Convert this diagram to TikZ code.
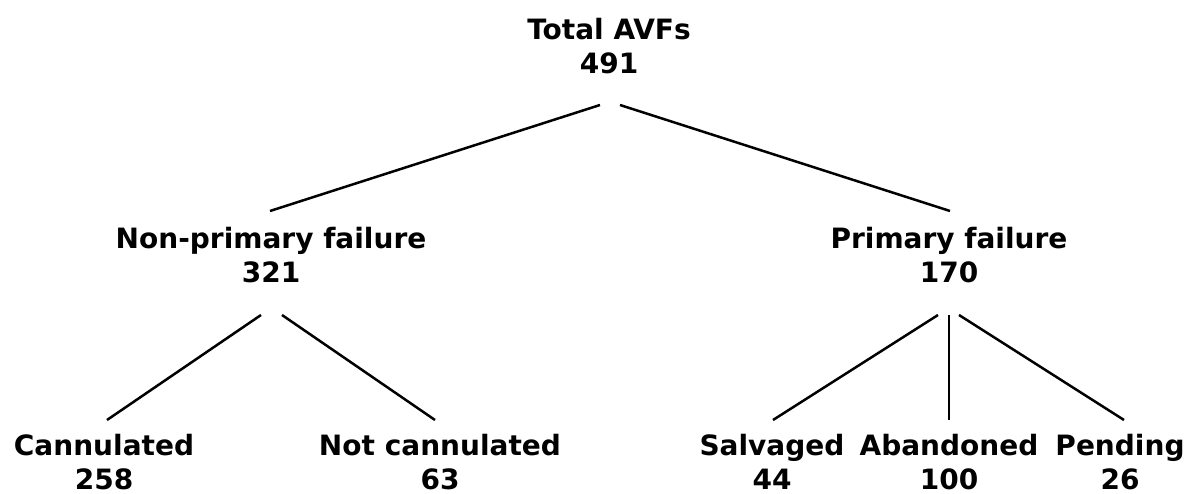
\documentclass[tikz,border=0pt]{standalone}
\usepackage{fontspec}
\setmainfont{DejaVu Sans}
\tikzset{
  lbl/.style={anchor=south, inner sep=0pt, align=center, font=\fontsize{28}{34}\selectfont\bfseries},
  conn/.style={line width=2.5pt, black}
}
\begin{document}
\begin{tikzpicture}[x=1pt, y=-1pt]
\useasboundingbox[fill=white] (0,0) rectangle (1192,494);
\node[lbl] (top)  at (609,74)  {Total AVFs\\491};
\node[lbl] (np)   at (271,283) {Non-primary failure\\321};
\node[lbl] (pf)   at (949,283) {Primary failure\\170};
\node[lbl] (can)  at (104,490) {Cannulated\\258};
\node[lbl] (notc) at (440,490) {Not cannulated\\63};
\node[lbl] (sal)  at (772,490) {Salvaged\\44};
\node[lbl] (ab)   at (949,490) {Abandoned\\100};
\node[lbl] (pen)  at (1120,490) {Pending\\26};

\draw[conn] ([xshift=-9pt,yshift=-31pt]top.south) -- ([xshift=-1pt,yshift=72pt]np.south);
\draw[conn] ([xshift=11pt,yshift=-31pt]top.south) -- ([xshift=1pt,yshift=72pt]pf.south);

\draw[conn] ([xshift=-10pt,yshift=-32pt]np.south) -- ([xshift=3pt,yshift=70pt]can.south);
\draw[conn] ([xshift=11pt,yshift=-32pt]np.south) -- ([xshift=-5pt,yshift=70pt]notc.south);

\draw[conn] ([xshift=-11pt,yshift=-32pt]pf.south) -- ([xshift=1pt,yshift=70pt]sal.south);
\draw[conn] ([yshift=-32pt]pf.south) -- ([yshift=70pt]ab.south);
\draw[conn] ([xshift=10pt,yshift=-32pt]pf.south) -- ([xshift=4pt,yshift=70pt]pen.south);
\end{tikzpicture}
\end{document}
